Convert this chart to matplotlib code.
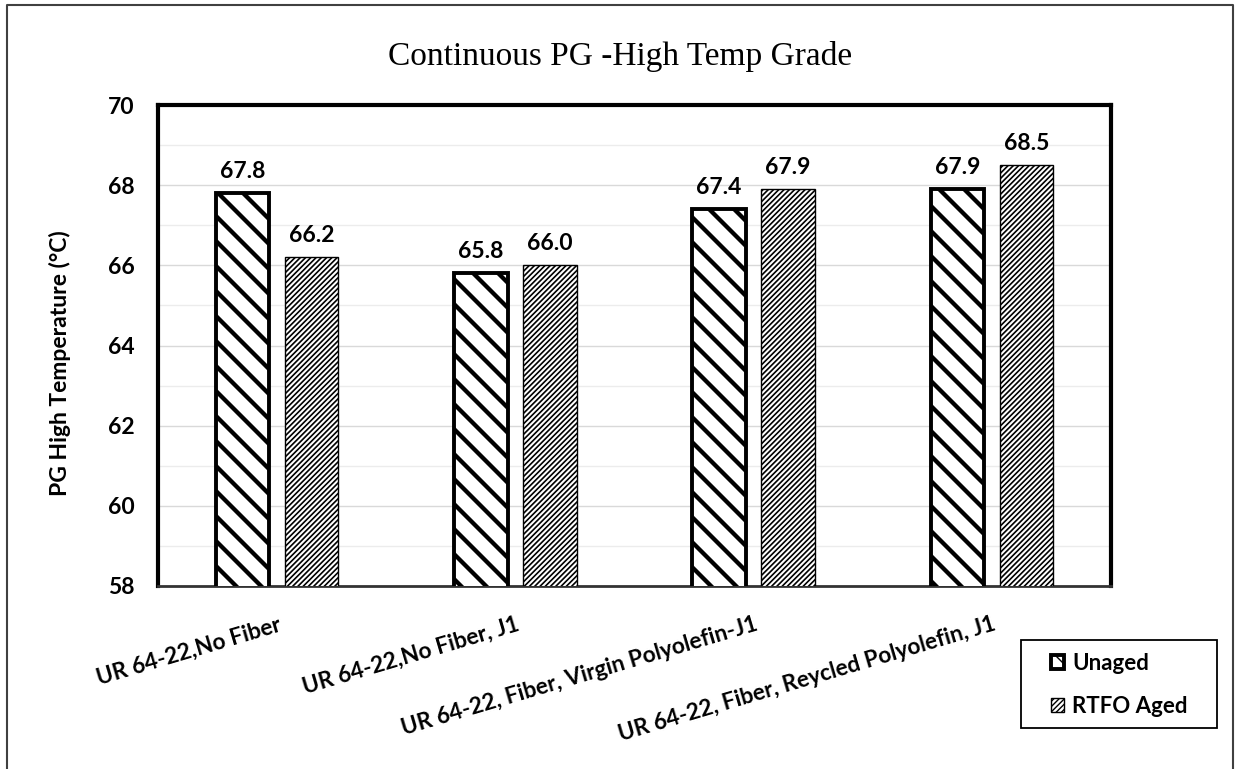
import matplotlib
matplotlib.use("Agg")
import matplotlib.pyplot as plt
import matplotlib.hatch as mhatch
import numpy as np
from matplotlib.lines import Line2D
from matplotlib.patches import Rectangle
from matplotlib.ticker import MultipleLocator

# Data
categories = [
    "UR 64-22,No Fiber",
    "UR 64-22,No Fiber, J1",
    "UR 64-22, Fiber, Virgin Polyolefin-J1",
    "UR 64-22, Fiber, Reycled Polyolefin, J1",
]
unaged = [67.8, 65.8, 67.4, 67.9]
rtfo_aged = [66.2, 66.0, 67.9, 68.5]
series_names = ["Unaged", "RTFO Aged"]

title = "Continuous PG -High Temp Grade"
ylabel = "PG High Temperature (\u00b0C)"
y_min, y_max = 58, 70


# Hatch densities: wide "\" stripes for Unaged, fine "/" stripes for RTFO
# (even line counts so the pattern tiles without seams)
def _se_init(self, hatch, density):
    self.num_lines = int(hatch.count("\\") * 8)
    self.num_vertices = (self.num_lines + 1) * 2 if self.num_lines else 0


def _ne_init(self, hatch, density):
    self.num_lines = int(hatch.count("/") * 38)
    self.num_vertices = (self.num_lines + 1) * 2 if self.num_lines else 0


mhatch.SouthEastHatch.__init__ = _se_init
mhatch.NorthEastHatch.__init__ = _ne_init

sans = ["Lato", "DejaVu Sans"]
plt.rcParams["font.family"] = sans

W, H = 1235, 769
fig = plt.figure(figsize=(W / 100, H / 100), dpi=100)
ax = fig.add_axes([158 / W, 1 - 586 / H, (1111 - 158) / W, (586 - 105) / H])

x = np.arange(len(categories))
bw = 0.225
off = 0.145


def bars(vals, pos, hatch, hlw, elw, label):
    with plt.rc_context({"hatch.linewidth": hlw, "hatch.color": "black"}):
        cont = ax.bar(pos, vals, width=bw, bottom=0, color="white",
                      edgecolor="black", linewidth=elw, hatch=hatch,
                      label=label, zorder=3)
        for p in cont.patches:
            if hasattr(p, "set_hatch_linewidth"):
                p.set_hatch_linewidth(hlw)
    return cont


b1 = bars(unaged, x - off, "\\", 3.1, 2.8, series_names[0])
b2 = bars(rtfo_aged, x + off, "/", 1.2, 1.0, series_names[1])

for cont, vals in ((b1, unaged), (b2, rtfo_aged)):
    for rect, v in zip(cont.patches, vals):
        ax.annotate(f"{v:.1f}", (rect.get_x() + rect.get_width() / 2, v),
                    xytext=(0, 11), textcoords="offset points",
                    ha="center", va="baseline", fontsize=16.5,
                    fontweight="bold")

ax.set_xlim(-0.5, len(categories) - 0.5)
ax.set_ylim(y_min, y_max)
ax.yaxis.set_major_locator(MultipleLocator(2))
ax.yaxis.set_minor_locator(MultipleLocator(1))
ax.grid(axis="y", which="major", color="#d9d9d9", linewidth=1.0, zorder=0)
ax.grid(axis="y", which="minor", color="#ececec", linewidth=1.0, zorder=0)
ax.set_axisbelow(True)

ax.tick_params(axis="y", which="both", length=0, pad=17, labelsize=16.5)
for lab in ax.get_yticklabels():
    lab.set_fontweight("bold")

ax.set_xticks(x)
ax.set_xticklabels(categories, rotation=16.5, ha="right", va="top",
                   rotation_mode="anchor", fontsize=16.3, fontweight="bold")
ax.tick_params(axis="x", length=0, pad=20)

for side in ("left", "top", "right"):
    ax.spines[side].set_linewidth(3.0)
    ax.spines[side].set_color("black")
ax.spines["bottom"].set_linewidth(2.0)
ax.spines["bottom"].set_color("#333333")

ax.set_ylabel(ylabel, fontsize=16.5, fontweight="bold")
ax.yaxis.set_label_coords((71 - 158) / 953, (586 - 363) / 481)

fig.text(620 / W, 1 - 57 / H, title, ha="center", va="center",
         fontsize=24, family=["Liberation Serif", "DejaVu Serif"])

# Legend with a separately drawn frame
fig.add_artist(Rectangle((1021 / W, 1 - 728 / H), (1217 - 1021) / W, 88 / H,
                         transform=fig.transFigure, fill=False,
                         edgecolor="black", linewidth=1.3))
leg = fig.legend(handles=[b1, b2], labels=series_names,
                 loc="upper left", bbox_to_anchor=(1051 / W, 1 - 653 / H),
                 frameon=False, prop={"size": 16, "weight": "bold"},
                 handlelength=0.6, handleheight=0.6, handletextpad=0.35,
                 borderpad=0, labelspacing=0.98, borderaxespad=0)

# Outer chart border
fig.add_artist(Line2D([7 / W, 7 / W, 1233 / W, 1233 / W],
                      [0, 1 - 5 / H, 1 - 5 / H, 0],
                      transform=fig.transFigure, color="#404040", linewidth=1.5))

fig.savefig("out.png", dpi=100)
